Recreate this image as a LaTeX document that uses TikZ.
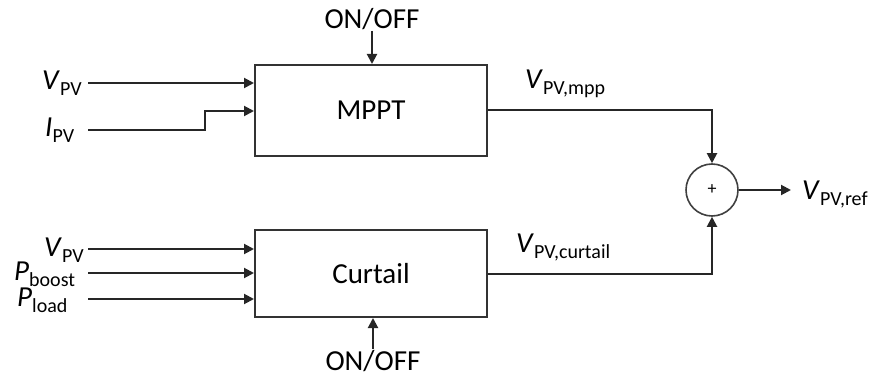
\documentclass[tikz,border=0pt]{standalone}
\usepackage{fontspec}
\setmainfont{Carlito}
\usetikzlibrary{arrows.meta}
\newcommand{\lab}[2]{{\fontsize{29}{30}\selectfont\textit{#1}}{\fontsize{20}{20}\selectfont\raisebox{-6pt}{#2}}}
\begin{document}
\begin{tikzpicture}[x=1pt,y=-1pt,
  ln/.style={line width=2pt, draw=black!85},
  arr/.style={ln, -{Triangle[length=10pt,width=10pt]}},
  blk/.style={draw=black!80, line width=2pt, fill=white, minimum width=232pt, font=\fontsize{29}{30}\selectfont},
  lbl/.style={inner sep=0pt, anchor=west},
  onoff/.style={inner sep=1pt, font=\fontsize{29}{30}\selectfont}]
\useasboundingbox (0,0) rectangle (873,382);
% blocks
\node[blk, minimum height=91pt] (mppt) at (371,110.5) {MPPT};
\node[blk, minimum height=87pt] (curt) at (371,273.5) {Curtail};
\node[draw=black!75, line width=1.6pt, circle, minimum size=52pt, inner sep=0pt, font=\fontsize{18}{18}\selectfont] (sum) at (712,190) {+};
% on/off
\node[onoff] (on1) at (372,19) {ON/OFF};
\node[onoff] (on2) at (373,361) {ON/OFF};
\draw[arr] (on1.south) -- (on1.south |- mppt.north);
\draw[arr] (on2.north) -- (on2.north |- curt.south);
% MPPT inputs
\node[lbl] (vpv1) at (42,83) {\lab{V}{PV}};
\node[lbl] (ipv) at (45,130) {\lab{I}{PV}};
\coordinate (s1) at (88,83);
\coordinate (s2) at (88,130);
\coordinate (k1) at (205,130);
\coordinate (k2) at (205,111);
\draw[arr] (s1) -- (s1 -| mppt.west);
\draw[arr] (s2) -- (k1) -- (k2) -- (k2 -| mppt.west);
% Curtail inputs
\node[lbl] (vpv2) at (44,250) {\lab{V}{PV}};
\node[lbl] (pb) at (14,274) {\lab{P}{boost}};
\node[lbl] (pl) at (17,300) {\lab{P}{load}};
\coordinate (c1) at (88,249);
\coordinate (c2) at (88,273);
\coordinate (c3) at (88,299);
\draw[arr] (c1) -- (c1 -| curt.west);
\draw[arr] (c2) -- (c2 -| curt.west);
\draw[arr] (c3) -- (c3 -| curt.west);
% outputs
\node[lbl] (vmpp) at (525,84) {\lab{V}{PV,mpp}};
\node[lbl] (vcur) at (516,247) {\lab{V}{PV,curtail}};
\draw[arr] (mppt.east) -| (sum.north);
\draw[arr] (curt.east) -| (sum.south);
\node[lbl] (vref) at (802,194) {\lab{V}{PV,ref}};
\coordinate (e1) at (791,190);
\draw[arr] (sum.east) -- (e1);
\end{tikzpicture}
\end{document}
